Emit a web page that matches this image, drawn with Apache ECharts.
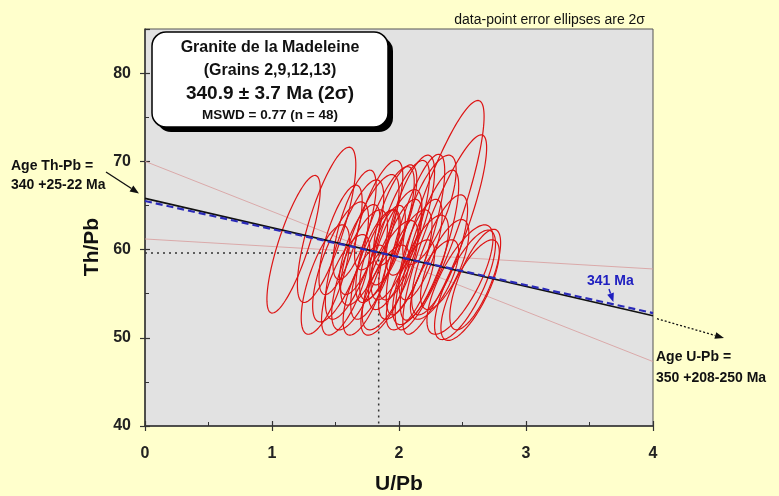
<!DOCTYPE html>
<html>
<head>
<meta charset="utf-8">
<script src="https://cdn.jsdelivr.net/npm/echarts@6/dist/echarts.min.js"></script>
<style>
html,body{margin:0;padding:0;background:#FFFFCC;}
#chart{width:779px;height:496px;}
</style>
</head>
<body>
<div id="chart"></div>
<script>
// ---- data ----
// error ellipses (2 sigma): U/Pb, ±U/Pb, Th/Pb, ±Th/Pb, correlation
const uPb    = [1.17,1.43,1.54,1.65,1.69,1.77,1.81,1.89,1.93,1.97,2.01,2.05,2.13,2.17,2.24,2.32,2.32,2.36,2.48,2.52,2.56,2.60,1.58,1.42,1.73,1.89,2.09,2.28,1.65,1.84,1.97,2.09,2.24,1.69,1.85,2.01,2.17,1.54,2.36,1.91];
const uPbErr = [0.21,0.23,0.22,0.23,0.22,0.23,0.19,0.23,0.22,0.21,0.23,0.21,0.23,0.22,0.23,0.22,0.35,0.33,0.26,0.24,0.23,0.20,0.19,0.19,0.17,0.19,0.19,0.19,0.17,0.19,0.17,0.19,0.21,0.16,0.16,0.17,0.17,0.17,0.19,0.14];
const thPb   = [60.6,62.8,58.6,60.0,57.7,61.1,58.3,61.7,57.1,60.0,62.2,58.3,61.7,57.7,60.5,59.4,63.9,61.7,56.6,56.0,55.4,56.6,56.0,56.6,55.4,55.4,56.0,56.6,62.8,63.9,63.9,63.9,64.5,60.0,59.4,60.0,60.0,61.1,58.3,60.5];
const thPbErr= [7.8,8.8,6.8,7.9,6.8,7.4,6.2,7.7,6.2,6.8,7.9,6.2,9.1,6.2,8.5,6.8,13.0,11.3,6.2,6.2,5.7,5.7,5.7,6.2,5.1,5.1,5.1,4.5,6.2,6.2,5.7,6.8,6.2,5.1,5.1,5.7,5.7,6.2,5.1,4.5];
const rho    = [0.80,0.77,0.73,0.75,0.73,0.75,0.73,0.77,0.73,0.73,0.77,0.73,0.79,0.73,0.79,0.75,0.86,0.87,0.75,0.75,0.75,0.73,0.70,0.70,0.69,0.70,0.70,0.70,0.71,0.72,0.71,0.72,0.72,0.69,0.69,0.70,0.70,0.71,0.70,0.67];

// regression line, reference (341 Ma) line, error envelope, centroid
const lineX     = [0, 4];
const fitY      = [65.8, 52.5];
const refY      = [65.5, 52.8];
const envAY     = [70.0, 47.3];
const envBY     = [61.2, 57.8];
const centroid  = [1.84, 59.6];

// axes
const xMin = 0, xMax = 4, xStep = 1;
const yMin = 40, yMax = 85, yStep = 10;

// texts
const titleLines = ['Granite de la Madeleine','(Grains 2,9,12,13)','340.9 ± 3.7 Ma (2σ)','MSWD = 0.77 (n = 48)'];
const noteText = 'data-point error ellipses are 2σ';
const thPbAge = ['Age Th-Pb =','340 +25-22 Ma'];
const uPbAge = ['Age U-Pb =','350 +208-250 Ma'];
const refLabel = '341 Ma';
const refLabelX = 3.68;

const FONT = '"Liberation Sans", Arial, sans-serif';
const chart = echarts.init(document.getElementById('chart'));

const ellData = uPb.map((u,i)=>[u, uPbErr[i], thPb[i], thPbErr[i], rho[i]]);
const pair = (xs, ys) => xs.map((x,i)=>[x, ys[i]]);

const axisLabelStyle = {color:'#222', fontWeight:'bold', fontSize:16, fontFamily:FONT};
const common = {type:'value', splitLine:{show:false}};

const option = {
  backgroundColor:'#FFFFCC',
  animation:false,
  grid:{left:145, right:126, top:29, bottom:70, show:true, backgroundColor:'#E2E2E2', borderColor:'#555', borderWidth:1},
  xAxis:[
    Object.assign({}, common, {min:xMin, max:xMax, interval:xStep, position:'bottom',
      axisLine:{show:true, lineStyle:{color:'#333', width:1.5}},
      axisTick:{show:true, inside:false, length:5, lineStyle:{color:'#333', width:1.2}},
      axisLabel:Object.assign({margin:20}, axisLabelStyle)}),
    Object.assign({}, common, {min:xMin, max:xMax, interval:xStep, position:'bottom',
      axisLine:{show:false}, axisLabel:{show:false},
      axisTick:{show:true, inside:true, length:5, lineStyle:{color:'#333', width:1.2}},
      minorTick:{show:true, splitNumber:2, length:4, lineStyle:{color:'#333', width:1}}})
  ],
  yAxis:[
    Object.assign({}, common, {min:yMin, max:yMax, interval:yStep, position:'left',
      axisLine:{show:true, lineStyle:{color:'#333', width:1.5}},
      axisTick:{show:true, inside:false, length:5, lineStyle:{color:'#333', width:1.2}},
      axisLabel:Object.assign({margin:14, showMaxLabel:false}, axisLabelStyle)}),
    Object.assign({}, common, {min:yMin, max:yMax, interval:yStep, position:'left',
      axisLine:{show:false}, axisLabel:{show:false},
      axisTick:{show:true, inside:true, length:5, lineStyle:{color:'#333', width:1.2}},
      minorTick:{show:true, splitNumber:2, length:4, lineStyle:{color:'#333', width:1}}})
  ],
  series:[
    {type:'line', data:pair(lineX, envAY), symbol:'none', lineStyle:{color:'#d89a9a', width:0.8}, z:2},
    {type:'line', data:pair(lineX, envBY), symbol:'none', lineStyle:{color:'#d89a9a', width:0.8}, z:2},
    {type:'line', data:[[xMin, centroid[1]],[centroid[0], centroid[1]],[centroid[0], yMin]], symbol:'none',
      lineStyle:{color:'#333', width:1.5, type:[2,4]}, z:2},
    {type:'custom', data:ellData, encode:{x:0, y:2}, z:3,
      renderItem:function(params, api){
        const cx=api.value(0), sx=api.value(1), cy=api.value(2), sy=api.value(3), r=api.value(4);
        const k=Math.sqrt(1-r*r), pts=[];
        for(let i=0;i<=120;i++){
          const t=i/120*2*Math.PI;
          pts.push(api.coord([cx+sx*Math.cos(t), cy+sy*(r*Math.cos(t)+k*Math.sin(t))]));
        }
        return {type:'polyline', shape:{points:pts}, style:{stroke:'#dd1414', lineWidth:1.2, fill:null}};
      }},
    {type:'line', data:pair(lineX, fitY), symbol:'none', lineStyle:{color:'#111', width:1.6}, z:4},
    {type:'line', data:pair(lineX, refY), symbol:'none', lineStyle:{color:'#2a2ab8', width:2.2, type:[7,4]}, z:5}
  ]
};
chart.setOption(option);

// ---- annotations ----
const px = p => chart.convertToPixel({gridIndex:0}, p);
function arrow(a, b, color, dash, width){
  const ang = Math.atan2(b[1]-a[1], b[0]-a[0]);
  const L = 9, W = 3.5;
  const base = [b[0]-L*Math.cos(ang), b[1]-L*Math.sin(ang)];
  const h = [[b[0],b[1]],[base[0]+W*Math.sin(ang), base[1]-W*Math.cos(ang)],[base[0]-W*Math.sin(ang), base[1]+W*Math.cos(ang)]];
  return [
    {type:'line', shape:{x1:a[0], y1:a[1], x2:base[0], y2:base[1]}, style:{stroke:color, lineWidth:width, lineDash:dash}, z:20},
    {type:'polygon', shape:{points:h}, style:{fill:color}, z:20}
  ];
}
function txt(text, x, y, size, opts){
  return Object.assign({type:'text', x:x, y:y, z:30,
    style:Object.assign({text:text, font:'bold '+size+'px '+FONT, fill:'#111', align:'left', verticalAlign:'middle'}, (opts||{}))});
}

const yInt = px([0, fitY[0]]);
const xEnd = px([lineX[1], fitY[1]]);
const refPt = px([refLabelX, refY[0] + (refY[1]-refY[0])*refLabelX/4]);
const boxX = 152, boxY = 32, boxW = 236, boxH = 95, cxT = boxX + boxW/2;

const g = [];
g.push({type:'rect', shape:{x:boxX+5, y:boxY+5, width:boxW, height:boxH, r:14}, style:{fill:'#000'}, z:25});
g.push({type:'rect', shape:{x:boxX, y:boxY, width:boxW, height:boxH, r:14}, style:{fill:'#fff', stroke:'#000', lineWidth:1.5}, z:26});
g.push(txt(titleLines[0], cxT, 48, 16, {align:'center'}));
g.push(txt(titleLines[1], cxT, 71, 16, {align:'center'}));
g.push(txt(titleLines[2], cxT, 94, 19, {align:'center'}));
g.push(txt(titleLines[3], cxT, 115, 13.5, {align:'center'}));
g.push(txt(noteText, 645, 20, 14, {align:'right', font:'14px '+FONT}));
g.push(txt(thPbAge[0], 11, 166, 14));
g.push(txt(thPbAge[1], 11, 185, 14));
g.push(txt(uPbAge[0], 656, 357, 14));
g.push(txt(uPbAge[1], 656, 378, 14));
g.push(txt(refLabel, 587, 281, 14, {fill:'#2020c0'}));
g.push(txt('U/Pb', 399, 484, 21, {align:'center'}));
g.push(Object.assign(txt('Th/Pb', 92, 247, 21, {align:'center'}), {rotation:Math.PI/2}));
arrow([106,172], [yInt[0]-6, yInt[1]-5], '#111', null, 1.4).forEach(e=>g.push(e));
arrow([xEnd[0]+4, xEnd[1]+3], [724, 338], '#111', [2,2], 1.3).forEach(e=>g.push(e));
arrow([609, 289], [refPt[0]+1, refPt[1]-2], '#2020c0', null, 1.4).forEach(e=>g.push(e));
chart.setOption({graphic:g});
</script>
</body>
</html>
